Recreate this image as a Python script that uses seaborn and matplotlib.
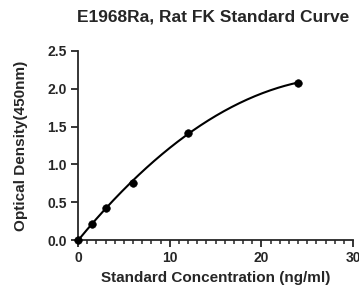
import numpy as np
import matplotlib
matplotlib.use("Agg")
import matplotlib.pyplot as plt
import seaborn as sns
from matplotlib.ticker import MultipleLocator

conc = [0, 1.5, 3, 6, 12, 24]
od = [0.0, 0.21, 0.42, 0.76, 1.42, 2.08]
title = "E1968Ra, Rat FK Standard Curve"
xlabel = "Standard Concentration (ng/ml)"
ylabel = "Optical Density(450nm)"

sns.set_style("ticks")
plt.rcParams['font.family'] = ['Liberation Sans', 'DejaVu Sans']

fig = plt.figure(figsize=(3.59, 2.89), dpi=100)
ax = fig.add_axes([78/359, 1-240/289, (353-78)/359, (240-51)/289])

# fitted curve (quadratic fit of the standards)
coef = np.polyfit(conc, od, 2)
xf = np.linspace(0, 24, 200)
yf = np.polyval(coef, xf)
sns.lineplot(x=xf, y=yf, ax=ax, color="black", lw=1.5)
sns.scatterplot(x=conc, y=od, ax=ax, color="black", s=30, edgecolor="black", zorder=5, clip_on=False)

ax.set_xlim(0, 30)
ax.set_ylim(0, 2.5)
ax.set_xticks([0, 10, 20, 30])
ax.set_yticks([0, 0.5, 1.0, 1.5, 2.0, 2.5])
ax.set_yticklabels(["0.0", "0.5", "1.0", "1.5", "2.0", "2.5"])
ax.xaxis.set_minor_locator(MultipleLocator(1))
for s in ["top", "right"]:
    ax.spines[s].set_visible(False)
for s in ["left", "bottom"]:
    ax.spines[s].set_linewidth(1.3)
ax.tick_params(axis="both", which="major", length=5, width=1.3, labelsize=10, pad=3)
ax.tick_params(axis="x", which="minor", length=3, width=1.1)
for lab in ax.get_xticklabels() + ax.get_yticklabels():
    lab.set_fontweight("bold")
ax.set_xlabel(xlabel, fontsize=11, fontweight="bold", labelpad=4)
ax.set_ylabel(ylabel, fontsize=11, fontweight="bold", labelpad=14)
fig.text(0.595, 0.94, title, ha="center", va="center", fontsize=12.5, fontweight="bold")

fig.savefig("out.png", dpi=100)
